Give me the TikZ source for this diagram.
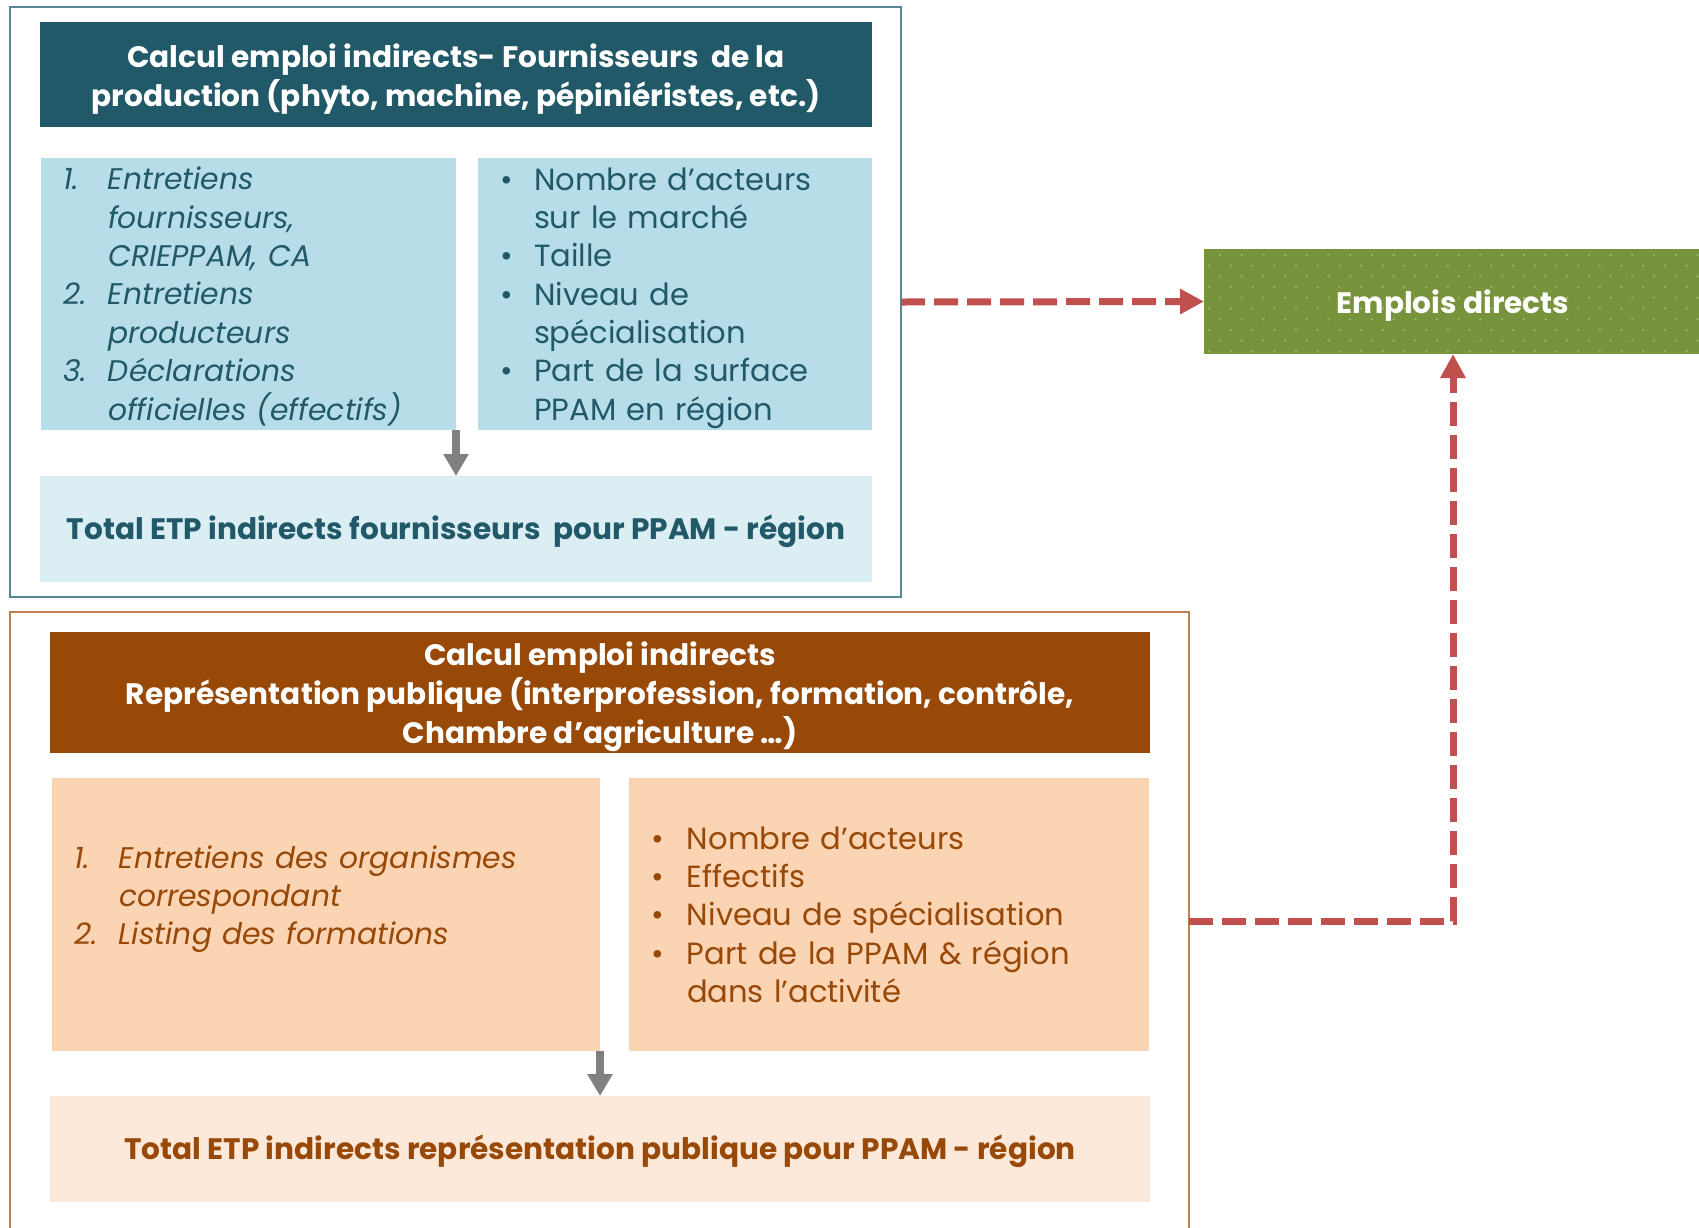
\documentclass[tikz,border=0pt]{standalone}
\usepackage{fontspec}
\setmainfont{Poppins}
\usetikzlibrary{arrows.meta}

\definecolor{tealhead}{RGB}{33,89,104}
\definecolor{bluebox}{RGB}{183,222,232}
\definecolor{bluelight}{RGB}{219,238,244}
\definecolor{tealframe}{RGB}{84,134,148}
\definecolor{brownhead}{RGB}{152,72,7}
\definecolor{peachbox}{RGB}{251,212,180}
\definecolor{peachlight}{RGB}{253,233,217}
\definecolor{brownframe}{RGB}{192,128,80}
\definecolor{greenbox}{RGB}{119,147,60}
\definecolor{greendot}{RGB}{148,180,98}
\definecolor{reddash}{RGB}{192,80,77}
\definecolor{arrowgrey}{RGB}{128,128,128}

% taller first line, pushes the text block down a little
\newcommand{\firstrow}{\rule{0pt}{34pt}}
\newcommand{\firsthead}{\rule{0pt}{33pt}}

\begin{document}
\begin{tikzpicture}[x=1pt,y=-1pt]
\tikzstyle{every node}=[inner sep=0pt, outer sep=0pt, anchor=north west]
\tikzstyle{headbox}=[text=white, align=center, font=\fontsize{29.6}{39}\selectfont\bfseries]
\tikzstyle{itembox}=[align=left, inner xsep=22pt, inner ysep=-4pt, font=\fontsize{30.6}{38.3}\selectfont]
\tikzstyle{totalbox}=[font=\fontsize{29.6}{39}\selectfont\bfseries, text height=24pt, text depth=4pt]
\tikzstyle{feed}=[draw=reddash, line width=7pt, dash pattern=on 24pt off 9pt, -{Triangle[length=24pt,width=24pt]}]
\tikzstyle{down}=[draw=arrowgrey, line width=8pt, -{Triangle[length=22pt,width=24pt]}]

\useasboundingbox (0,0) rectangle (1699,1227);

% fournisseurs
\node[draw=tealframe, line width=1.8pt, minimum width=891pt, minimum height=590pt] (topframe) at (10,7) {};
\node[headbox, fill=tealhead, minimum width=832pt, minimum height=105pt] (tophead) at (40,22)
	{\firsthead Calcul emploi indirects- Fournisseurs \ de la\\production (phyto, machine, pépiniéristes, etc.)};
\node[itembox, fill=bluebox, text=tealhead, minimum width=415pt, minimum height=272pt, text width=371pt] (topsources) at (41,158)
	{\fontsize{29.8}{38.3}\selectfont\itshape\begin{tabular}{@{}p{45pt}@{}l@{}}
	\firstrow 1. & Entretiens\\ & fournisseurs,\\ & CRIEPPAM, CA\\
	2. & Entretiens\\ & producteurs\\
	3. & Déclarations\\ & officielles (effectifs)
	\end{tabular}};
\node[itembox, fill=bluebox, text=tealhead, minimum width=394pt, minimum height=272pt, text width=350pt] (topcriteria) at (478,158)
	{\begin{tabular}{@{}p{34pt}@{}l@{}}
	\firstrow\textbullet & Nombre d’acteurs\\ & sur le marché\\
	\textbullet & Taille\\
	\textbullet & Niveau de\\ & spécialisation\\
	\textbullet & Part de la surface\\ & PPAM en région
	\end{tabular}};
\node[totalbox, fill=bluelight, text=tealhead, minimum width=832pt, minimum height=106pt] (toptotal) at (40,476)
	{Total ETP indirects fournisseurs \ pour PPAM - région};
\draw[down] (topsources.south east) -- (topsources.south east |- toptotal.north);

% representation publique
\draw[brownframe, line width=1.8pt] (10,1240) |- (1189,612) -- (1189,1240);
\coordinate (botout) at (1189,921);
\node[headbox, fill=brownhead, minimum width=1100pt, minimum height=121pt] (bothead) at (50,632)
	{\firsthead Calcul emploi indirects\\Représentation publique (interprofession, formation, contrôle,\\Chambre d’agriculture …)};
\node[itembox, fill=peachbox, text=brownhead, minimum width=548pt, minimum height=273pt, text width=504pt] (botsources) at (52,778)
	{\fontsize{29.8}{38.3}\selectfont\itshape\begin{tabular}{@{}p{45pt}@{}l@{}}
	\firstrow 1. & Entretiens des organismes\\ & correspondant\\
	2. & Listing des formations\\ &
	\end{tabular}};
\node[itembox, fill=peachbox, text=brownhead, minimum width=520pt, minimum height=273pt, text width=476pt] (botcriteria) at (629,778)
	{\begin{tabular}{@{}p{36pt}@{}l@{}}
	\firstrow\textbullet & Nombre d’acteurs\\
	\textbullet & Effectifs\\
	\textbullet & Niveau de spécialisation\\
	\textbullet & Part de la PPAM \& région\\ & dans l’activité
	\end{tabular}};
\node[totalbox, fill=peachlight, text=brownhead, minimum width=1100pt, minimum height=106pt] (bottotal) at (50,1096)
	{Total ETP indirects représentation publique pour PPAM - région};
\draw[down] (botsources.south east) -- (botsources.south east |- bottotal.north);

% emplois directs
\node[totalbox, text height=26pt, text depth=2pt, fill=greenbox, text=white, minimum width=498pt, minimum height=105pt,
	path picture={\foreach \r in {0,...,9} \foreach \c in {0,...,23}
		\fill[greendot] ([shift={({-5.7+\c*21.7+mod(\r,2)*10.85},{6+\r*10.7})}]path picture bounding box.north west) circle (1.4pt);}] (emplois) at (1204,249)
	{Emplois directs};

\draw[feed] (topframe.east) -- (emplois.west);
\draw[feed] (botout) -| (emplois.south);
\end{tikzpicture}
\end{document}
